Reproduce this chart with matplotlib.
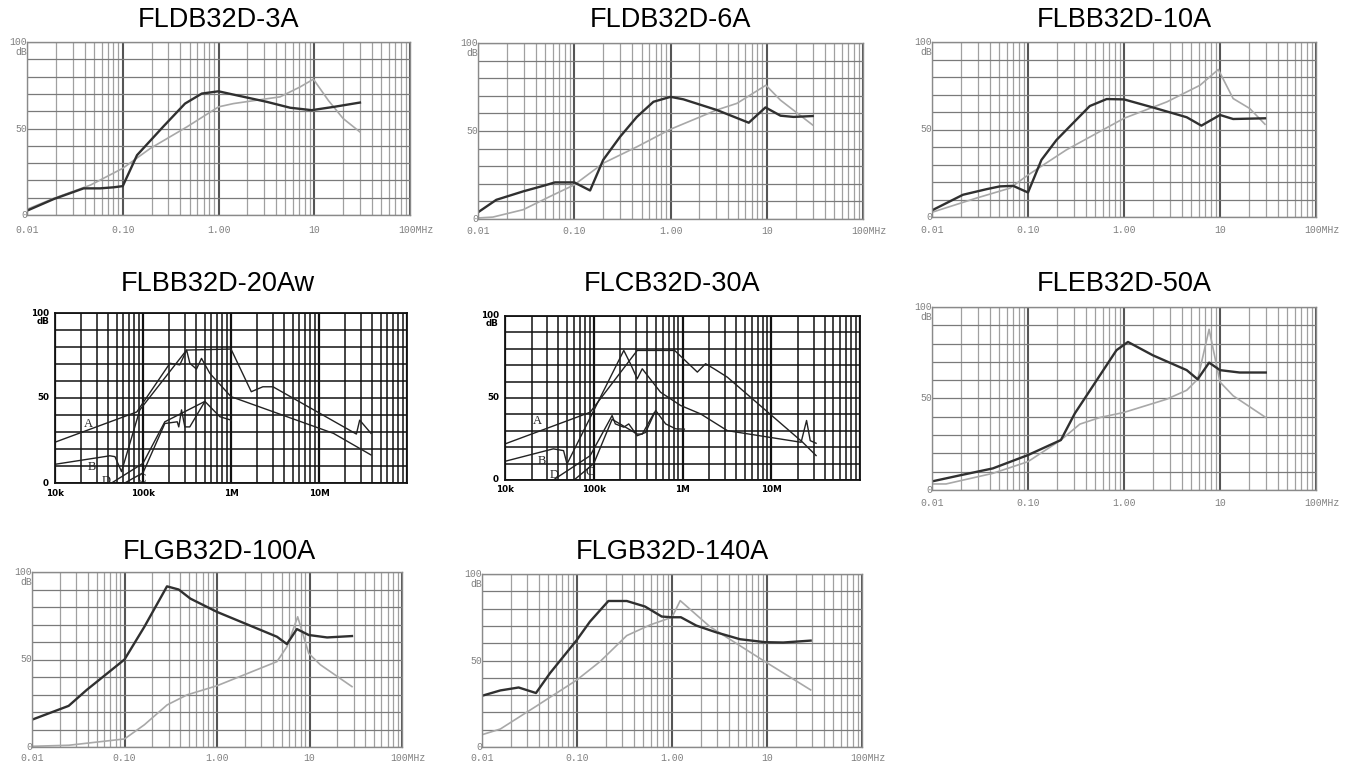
import matplotlib
matplotlib.use('Agg')
import matplotlib.pyplot as plt
from matplotlib.ticker import FixedLocator, NullLocator

W, H, DPI = 1351, 765, 100

# ---------------- data ----------------
# x tick labels
mhz_ticks = [0.01, 0.1, 1, 10, 100]
mhz_labels = ['0.01', '0.10', '1.00', '10', '100MHz']
hz_ticks = [1e4, 1e5, 1e6, 1e7]
hz_labels = ['10k', '100k', '1M', '10M']

titles = ['FLDB32D-3A', 'FLDB32D-6A', 'FLBB32D-10A', 'FLBB32D-20Aw',
          'FLCB32D-30A', 'FLEB32D-50A', 'FLGB32D-100A', 'FLGB32D-140A']

# FLDB32D-3A (MHz, dB)
p1_dark_f = [0.01, 0.019, 0.039, 0.058, 0.08, 0.10, 0.141, 0.267, 0.447, 0.67, 1.0, 1.43, 3.2, 5.6, 9.4, 16, 30]
p1_dark_db = [2.5, 9.2, 15.4, 15.4, 16, 16.7, 34.6, 51.3, 64.4, 70.2, 71.5, 69.6, 65.4, 62, 60.6, 62.5, 65]
p1_light_f = [0.01, 0.019, 0.046, 0.1, 0.194, 0.47, 1.0, 1.43, 4.4, 7.1, 9.8, 14, 20, 30]
p1_light_db = [3.3, 9.6, 17.3, 27, 38.5, 51, 62.5, 64.4, 68.3, 74, 78.5, 66.3, 55.8, 48]

# FLDB32D-6A
p2_dark_f = [0.01, 0.0155, 0.0295, 0.048, 0.063, 0.1, 0.146, 0.2, 0.3, 0.447, 0.665, 1.0, 1.36, 3.04, 6.5, 9.7, 13.9, 19, 30]
p2_dark_db = [3.8, 10.9, 15.7, 18.9, 20.8, 20.8, 16.2, 33.6, 46.8, 58, 66.6, 69.4, 68, 61.9, 54.7, 63.4, 58.7, 58, 58.5]
p2_light_f = [0.01, 0.0143, 0.0295, 0.056, 0.1, 0.2, 0.447, 1.0, 3.04, 4.9, 9.8, 13.9, 30]
p2_light_db = [0.6, 1.1, 5.3, 12.8, 19.4, 31.7, 41, 51, 62, 65.7, 76, 67.5, 53.4]

# FLBB32D-10A
p3_dark_f = [0.01, 0.021, 0.037, 0.051, 0.07, 0.1, 0.138, 0.198, 0.44, 0.66, 1.0, 2.0, 4.5, 6.4, 10, 13.7, 29.4]
p3_dark_db = [3.8, 12.7, 15.9, 17.5, 17.8, 14, 32.6, 44, 63.4, 67.4, 67.2, 62.6, 57, 52.2, 58.3, 56, 56.4]
p3_light_f = [0.01, 0.029, 0.065, 0.1, 0.25, 1.0, 2.8, 6.2, 9.6, 13.7, 20.4, 29.4]
p3_light_db = [2.7, 10.8, 16.5, 24, 38.3, 56.4, 65.8, 75.3, 84.3, 67.7, 62, 53]

# FLBB32D-20Aw (Hz, dB), curves A-D
p4_a_f = [1e4, 8.5e4, 2.02e5, 2.62e5, 3.13e5, 3.41e5, 4.05e5, 4.62e5, 5.75e5, 1e6, 1.46e7, 3.9e7]
p4_a_db = [24, 41.8, 70.4, 69.5, 78.2, 70.4, 67, 73.3, 64.5, 50.8, 29.2, 16.5]
p4_b_f = [1e4, 4.2e4, 4.8e4, 5.7e4, 9.2e4, 3.13e5, 1.0e6, 1.7e6, 2.3e6, 3.0e6, 2.66e7, 2.9e7, 3.9e7]
p4_b_db = [11, 16, 15.5, 6.7, 43, 78.2, 78.8, 53.7, 56.6, 56.6, 28.8, 37, 29.2]
p4_c_f = [6.2e4, 1.0e5, 1.77e5, 2.45e5, 2.55e5, 2.74e5, 2.99e5, 3.4e5, 5.05e5, 7.47e5, 1e6]
p4_c_db = [0, 6, 35, 36, 33, 43, 33, 33, 48, 39, 37]
p4_d_f = [4.4e4, 1.0e5, 1.77e5, 5.05e5]
p4_d_db = [0, 11.6, 36, 48]

# FLCB32D-30A
p5_a_f = [1e4, 9.1e4, 3.09e5, 8.15e5, 1.47e6, 1.82e6, 2.27e6, 3.2e6, 2.26e7, 3.2e7]
p5_a_db = [22, 41.3, 79, 79, 65.8, 70.9, 67.8, 62.7, 23, 14.9]
p5_b_f = [1e4, 3.5e4, 4.57e4, 5.0e4, 2.18e5, 2.59e5, 3.09e5, 3.52e5, 5.66e5, 9.55e5, 1.6e6, 3.2e6, 2.17e7, 2.5e7, 2.75e7, 3.2e7]
p5_b_db = [11.4, 19, 17.9, 9.8, 79, 70.9, 61.7, 67.8, 53.5, 45.4, 40.3, 30.1, 23, 36.3, 24, 22.4]
p5_c_f = [6.0e4, 1e5, 1.61e5, 3.09e5, 3.52e5, 4.8e5]
p5_c_db = [0, 10, 37, 28, 28, 41]
p5_d_f = [3.5e4, 9.1e4, 1.61e5, 1.75e5, 2.18e5, 2.48e5, 3.09e5, 3.84e5, 4.98e5, 6.46e5, 8.38e5, 1.05e6]
p5_d_db = [0, 14.8, 39.3, 34.2, 32.2, 34.2, 27, 29, 42.4, 34.2, 31.2, 31]

# FLEB32D-50A
p6_dark_f = [0.01, 0.0195, 0.043, 0.1, 0.22, 0.307, 0.835, 1.1, 2.0, 4.5, 5.85, 7.7, 10, 16, 30]
p6_dark_db = [4.7, 8, 11.8, 19.1, 27.3, 41.8, 76.4, 80.9, 73.6, 65.5, 60.5, 69.6, 65.5, 64.2, 64.2]
p6_light_f = [0.01, 0.014, 0.043, 0.1, 0.22, 0.347, 0.56, 1.0, 2.78, 4.5, 5.85, 7.7, 10, 13.7, 30]
p6_light_db = [3.3, 3.3, 9.1, 15.5, 27.3, 36, 39.6, 42.4, 49.6, 54.5, 60.5, 87.8, 59, 51.5, 39.6]

# FLGB32D-100A
p7_dark_f = [0.01, 0.0249, 0.039, 0.1, 0.164, 0.288, 0.385, 0.515, 1.0, 4.45, 5.7, 7.3, 9.8, 15.5, 28.8]
p7_dark_db = [15.6, 23.5, 32.6, 50, 68.7, 91.8, 90, 84.8, 77.2, 63, 58.8, 67.4, 64, 62.6, 63.4]
p7_light_f = [0.01, 0.025, 0.1, 0.164, 0.288, 0.475, 1.0, 4.45, 5.7, 7.45, 9.8, 13.1, 28.8]
p7_light_db = [0.4, 1, 4.6, 12.7, 24, 29.8, 35, 48.8, 57.3, 74.4, 53.5, 47, 34.5]

# FLGB32D-140A
p8_dark_f = [0.01, 0.0156, 0.0243, 0.037, 0.052, 0.1, 0.137, 0.214, 0.334, 0.52, 0.78, 1.0, 1.24, 1.8, 2.95, 5.2, 9.5, 14.8, 28.8]
p8_dark_db = [29.6, 32.7, 34.4, 31.2, 42.7, 62, 72.5, 84.4, 84.4, 81.2, 75.4, 75, 75, 70.2, 66.2, 62.3, 60.6, 60.4, 61.5]
p8_light_f = [0.01, 0.0156, 0.037, 0.1, 0.175, 0.334, 0.59, 1.0, 1.22, 2.5, 9.5, 28.8]
p8_light_db = [7.1, 10.4, 23.5, 38.8, 49.4, 64.4, 70.6, 75, 84.6, 69.6, 49.4, 33]

curve_letters = ['A', 'B', 'C', 'D']
p4_letter_f = [2.39e4, 2.6e4, 9.6e4, 3.79e4]
p4_letter_db = [34.7, 9.2, 2.2, 1.4]
p5_letter_f = [2.3e4, 2.6e4, 9.0e4, 3.6e4]
p5_letter_db = [35.8, 11.4, 4.7, 3.3]

# ---------------- layout (pixels: left, top, right, bottom) ----------------
rects = [(27, 42, 410, 215), (478, 43, 863, 219), (932, 42, 1316, 217),
         (55, 313, 407, 483), (505, 316, 860, 480), (932, 307, 1316, 490),
         (32, 572, 402, 747), (482, 574, 862, 747)]
title_pos = [(219, 20), (671, 20), (1124, 20),
             (218, 284), (672, 284), (1124, 284),
             (219, 552), (672, 552)]

fig = plt.figure(figsize=(W / DPI, H / DPI), dpi=DPI)
fig.patch.set_facecolor('white')


def box(l, t, r, b):
    return [l / W, 1 - b / H, (r - l) / W, (b - t) / H]


def base_axes(rect, xmin, xmax):
    ax = fig.add_axes(box(*rect))
    ax.set_xscale('log')
    ax.set_xlim(xmin, xmax)
    ax.set_ylim(0, 100)
    decs = []
    d = xmin
    while d <= xmax * 1.0001:
        decs.append(d)
        d *= 10
    minors = [m * dd for dd in decs[:-1] for m in range(2, 10)]
    ax.xaxis.set_major_locator(FixedLocator(decs))
    ax.xaxis.set_minor_locator(FixedLocator(minors))
    ax.yaxis.set_major_locator(FixedLocator(list(range(0, 101, 10))))
    ax.yaxis.set_minor_locator(NullLocator())
    ax.tick_params(which='both', length=0, labelbottom=False, labelleft=False)
    ax.set_axisbelow(True)
    return ax


def mhz_panel(i, dark_f, dark_db, light_f, light_db, xoff=13):
    ax = base_axes(rects[i], 0.01, 100)
    ax.grid(which='minor', axis='x', color='#a0a0a0', lw=0.9)
    ax.grid(which='major', axis='x', color='#555555', lw=1.5)
    ax.grid(which='major', axis='y', color='#7a7a7a', lw=0.9)
    for s in ax.spines.values():
        s.set_color('#8a8a8a')
        s.set_linewidth(1.0)
    ax.plot(light_f, light_db, color='#a8a8a8', lw=1.2, solid_joinstyle='round')
    ax.plot(dark_f, dark_db, color='#303030', lw=1.7, solid_joinstyle='round')
    mono = dict(family='Liberation Mono', fontsize=7, color='#808080')
    for f, lab in zip(mhz_ticks, mhz_labels):
        if lab.endswith('MHz'):
            ax.annotate(lab, xy=(f, 0), xycoords=('data', 'axes fraction'),
                        xytext=(-12, -xoff), textcoords='offset pixels',
                        ha='left', va='center', **mono)
        else:
            ax.annotate(lab, xy=(f, 0), xycoords=('data', 'axes fraction'),
                        xytext=(0, -xoff), textcoords='offset pixels',
                        ha='center', va='center', **mono)
    for v, lab in [(100, '100'), (50, '50'), (0, '0')]:
        ax.annotate(lab, xy=(0, v), xycoords=('axes fraction', 'data'),
                    xytext=(0, 0), textcoords='offset pixels',
                    ha='right', va='center', **mono)
    ax.annotate('dB', xy=(0, 100), xycoords=('axes fraction', 'data'),
                xytext=(0, -10), textcoords='offset pixels',
                ha='right', va='center', **mono)
    return ax


def hz_panel(i, curves, let_f, let_db, xoff=11):
    ax = base_axes(rects[i], 1e4, 1e8)
    ax.grid(which='minor', axis='x', color='#111111', lw=1.1)
    ax.grid(which='major', axis='x', color='#111111', lw=1.6)
    ax.grid(which='major', axis='y', color='#111111', lw=1.1)
    for s in ax.spines.values():
        s.set_color('#111111')
        s.set_linewidth(1.3)
    for f, db in curves:
        ax.plot(f, db, color='#222222', lw=1.0)
    sans = dict(family='DejaVu Sans', fontsize=6.3, color='black', fontweight='bold')
    for f, lab in zip(hz_ticks, hz_labels):
        ax.annotate(lab, xy=(f, 0), xycoords=('data', 'axes fraction'),
                    xytext=(0, -xoff), textcoords='offset pixels',
                    ha='center', va='center', **sans)
    for v, lab in [(100, '100'), (50, '50'), (0, '0')]:
        ax.annotate(lab, xy=(0, v), xycoords=('axes fraction', 'data'),
                    xytext=(-6, 0), textcoords='offset pixels',
                    ha='right', va='center', **sans)
    ax.annotate('dB', xy=(0, 100), xycoords=('axes fraction', 'data'),
                xytext=(-6, -8), textcoords='offset pixels',
                ha='right', va='center', **sans)
    for lab, f, db in zip(curve_letters, let_f, let_db):
        ax.text(f, db, lab, family='Liberation Serif', fontsize=9,
                ha='center', va='center', color='#222222')
    return ax


mhz_panel(0, p1_dark_f, p1_dark_db, p1_light_f, p1_light_db, xoff=15)
mhz_panel(1, p2_dark_f, p2_dark_db, p2_light_f, p2_light_db, xoff=12)
mhz_panel(2, p3_dark_f, p3_dark_db, p3_light_f, p3_light_db, xoff=13)
hz_panel(3, [(p4_a_f, p4_a_db), (p4_b_f, p4_b_db), (p4_c_f, p4_c_db), (p4_d_f, p4_d_db)],
         p4_letter_f, p4_letter_db, xoff=11)
hz_panel(4, [(p5_a_f, p5_a_db), (p5_b_f, p5_b_db), (p5_c_f, p5_c_db), (p5_d_f, p5_d_db)],
         p5_letter_f, p5_letter_db, xoff=10)
mhz_panel(5, p6_dark_f, p6_dark_db, p6_light_f, p6_light_db, xoff=13)
mhz_panel(6, p7_dark_f, p7_dark_db, p7_light_f, p7_light_db, xoff=11)
mhz_panel(7, p8_dark_f, p8_dark_db, p8_light_f, p8_light_db, xoff=11)

for t, (x, y) in zip(titles, title_pos):
    fig.text(x / W, 1 - y / H, t, ha='center', va='center',
             family='Liberation Sans', fontsize=19.5, color='black')

fig.savefig('out.png', dpi=DPI, facecolor='white')
